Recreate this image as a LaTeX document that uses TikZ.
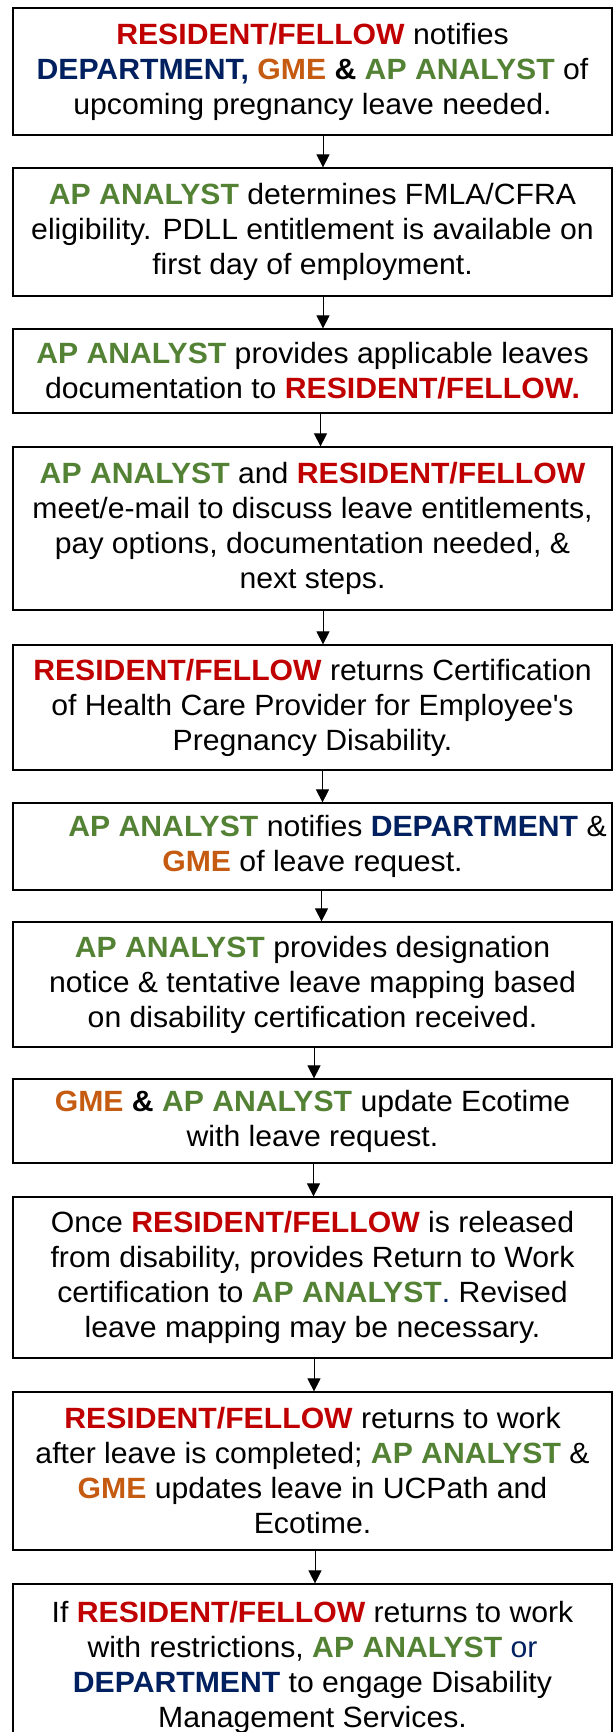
\documentclass[tikz,border=0pt]{standalone}
\usepackage{fontspec}
\setmainfont{Liberation Sans}[FakeStretch=1.03]
\usetikzlibrary{arrows.meta}
\definecolor{rfc}{RGB}{192,0,0}
\definecolor{depc}{RGB}{0,32,96}
\definecolor{gmec}{RGB}{197,90,17}
\definecolor{apac}{RGB}{84,130,53}
\newcommand{\rfn}{\textbf{\color{rfc}RESIDENT/FELLOW}}
\newcommand{\depn}{\textbf{\color{depc}DEPARTMENT}}
\newcommand{\gmen}{\textbf{\color{gmec}GME}}
\newcommand{\apan}{\textbf{\color{apac}AP ANALYST}}
\begin{document}
\begin{tikzpicture}[x=1pt,y=-1pt,
  box/.style={draw, line width=1.2pt, minimum width=599pt, align=center, inner sep=0pt,
    font=\fontsize{29.3}{35}\selectfont},
  arr/.style={-{Triangle[length=13pt,width=13pt]}, line width=0.8pt}]
\useasboundingbox (0,0) rectangle (613,1732);
\node[box, line width=2pt, minimum height=127pt] (b1) at (312.5,71.5)
  {\rfn{} notifies\\ \textbf{\color{depc}DEPARTMENT,} \gmen{} \textbf{\&} \apan{} of\\ upcoming pregnancy leave needed.};
\node[box, minimum height=128pt] (b2) at (312.5,232)
  {\apan{} determines FMLA/CFRA\\ eligibility. PDLL entitlement is available on\\ first day of employment.};
\node[box, minimum height=84pt] (b3) at (312.5,371)
  {\apan{} provides applicable leaves\\ documentation to \textbf{\color{rfc}RESIDENT/FELLOW.}};
\node[box, minimum height=163pt] (b4) at (312.5,528.5)
  {\apan{} and \rfn\\ meet/e-mail to discuss leave entitlements,\\ pay options, documentation needed, \&\\ next steps.};
\node[box, minimum height=125pt] (b5) at (312.5,707.5)
  {\rfn{} returns Certification\\ of Health Care Provider for Employee\textquotesingle s\\ Pregnancy Disability.};
\node[box, minimum height=87pt] (b6) at (312.5,846.5)
  {\hspace*{50pt}\apan{} notifies \depn{} \&\\ \gmen{} of leave request.};
\node[box, minimum height=125pt] (b7) at (312.5,984.5)
  {\apan{} provides designation\\ notice \& tentative leave mapping based\\ on disability certification received.};
\node[box, minimum height=84pt] (b8) at (312.5,1121)
  {\gmen{} \textbf{\&} \apan{} update Ecotime\\ with leave request.};
\node[box, minimum height=161pt] (b9) at (312.5,1277.5)
  {Once \rfn{} is released\\ from disability, provides Return to Work\\ certification to \apan{\color{depc}.} Revised\\ leave mapping may be necessary.};
\node[box, minimum height=158pt] (b10) at (312.5,1471)
  {\rfn{} returns to work\\ after leave is completed; \apan{} \&\\ \gmen{} updates leave in UCPath and\\ Ecotime.};
\node[box, minimum height=167pt] (b11) at (312.5,1667.5)
  {If \rfn{} returns to work\\ with restrictions, \apan{} {\color{depc}or}\\ \depn{} to engage Disability\\ Management Services.};
\draw[arr] ([xshift=10.5pt]b1.south) -- ([xshift=10.5pt]b2.north);
\draw[arr] ([xshift=10.5pt]b2.south) -- ([xshift=10.5pt]b3.north);
\draw[arr] ([xshift=8pt]b3.south) -- ([xshift=8pt]b4.north);
\draw[arr] ([xshift=10.5pt]b4.south) -- ([xshift=10.5pt]b5.north);
\draw[arr] ([xshift=10pt]b5.south) -- ([xshift=10pt]b6.north);
\draw[arr] ([xshift=9pt]b6.south) -- ([xshift=9pt]b7.north);
\draw[arr] ([xshift=1.5pt]b7.south) -- ([xshift=1.5pt]b8.north);
\draw[arr] ([xshift=1pt]b8.south) -- ([xshift=1pt]b9.north);
\draw[arr] ([xshift=1.5pt]b9.south) -- ([xshift=1.5pt]b10.north);
\draw[arr] ([xshift=2.5pt]b10.south) -- ([xshift=2.5pt]b11.north);
\end{tikzpicture}
\end{document}
